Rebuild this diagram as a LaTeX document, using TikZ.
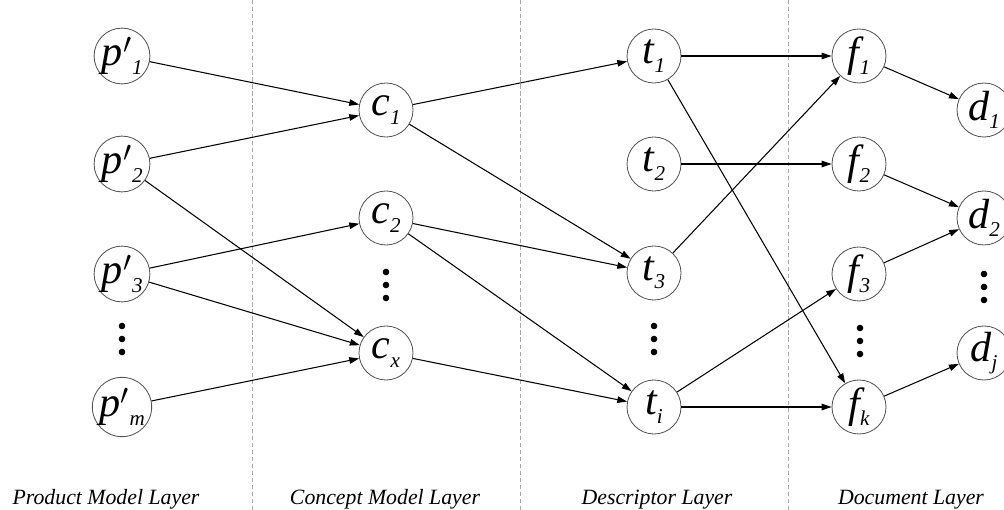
\documentclass[tikz,border=0pt]{standalone}
\usepackage{fontspec}
\setmainfont{Liberation Serif}
\usepackage{tikz}
\usetikzlibrary{arrows.meta}
\definecolor{netGrey}{HTML}{555555}
\definecolor{sepGrey}{HTML}{A8A8A8}
\newcommand{\lsub}[1]{\raisebox{-0.2em}{\fontsize{15}{15}\selectfont\itshape #1}}
\newcommand{\prm}{\kern0.02em$^{\prime}$}

\begin{document}
\begin{tikzpicture}[x=0.025cm,y=-0.025cm]
    \tikzset{
        state/.style={circle,draw=netGrey,line width=0.6pt,minimum size=1.35cm,inner sep=0pt,
            font=\fontsize{30}{30}\selectfont\itshape},
        link/.style={line width=0.75pt,-{Triangle[length=7pt,width=4.6pt]}},
        layersep/.style={sepGrey,line width=0.6pt,dash pattern=on 3pt off 2pt},
        layername/.style={anchor=base,font=\fontsize{15.5}{15.5}\selectfont\itshape},
        vdots/.pic={
            \foreach \k in {-1,0,1}
                \fill (0,\k*13) circle (3.3);
        }
    }
    \useasboundingbox (0,0) rectangle (1004,510);

    % layer separators
    \foreach \x in {252,520,788}{
        \draw[layersep] (\x,0) -- (\x,510);}

    % product model layer
    \node[state] (p1) at (122,56) {p\prm\lsub{1}};
    \node[state] (p2) at (122,164) {p\prm\lsub{2}};
    \node[state] (p3) at (122,274) {p\prm\lsub{3}};
    \node[state] (pm) at (122,407) {p\prm\lsub{m}};
    \pic at (122,339) {vdots};

    % concept model layer
    \node[state] (c1) at (386,110) {c\lsub{1}};
    \node[state] (c2) at (386,218) {c\lsub{2}};
    \node[state] (cx) at (386,353) {c\lsub{x}};
    \pic at (386,285) {vdots};

    % descriptor layer
    \node[state] (t1) at (654,56) {t\lsub{1}};
    \node[state] (t2) at (654,164) {t\lsub{2}};
    \node[state] (t3) at (654,273) {t\lsub{3}};
    \node[state] (ti) at (654,407) {t\lsub{i}};
    \pic at (654,339) {vdots};

    % document layer
    \node[state] (f1) at (859,56) {f\lsub{1}};
    \node[state] (f2) at (859,164) {f\lsub{2}};
    \node[state] (f3) at (859,274) {f\lsub{3}};
    \node[state] (fk) at (859,407) {f\lsub{k}};
    \pic at (860,341) {vdots};
    \node[state] (d1) at (984,110) {d\lsub{1}};
    \node[state] (d2) at (984,218) {d\lsub{2}};
    \node[state] (dj) at (984,353) {d\lsub{j}};
    \pic at (984,287) {vdots};

    % links
    \foreach \a/\b in {p1/c1,p2/c1,p2/cx,p3/c2,p3/cx,pm/cx,
                       c1/t1,c1/t3,c2/t3,c2/ti,cx/ti,
                       t1/f1,t1/fk,t2/f2,t3/f1,ti/f3,ti/fk,
                       f1/d1,f2/d2,f3/d2,fk/dj}
        \draw[link] (\a) -- (\b);

    % layer names
    \node[layername] (lp) at (106,504) {Product Model Layer};
    \node[layername] (lc) at (385,504) {Concept Model Layer};
    \node[layername] (lt) at (657,504) {Descriptor Layer};
    \node[layername] (lf) at (911,504) {Document Layer};
\end{tikzpicture}
\end{document}
